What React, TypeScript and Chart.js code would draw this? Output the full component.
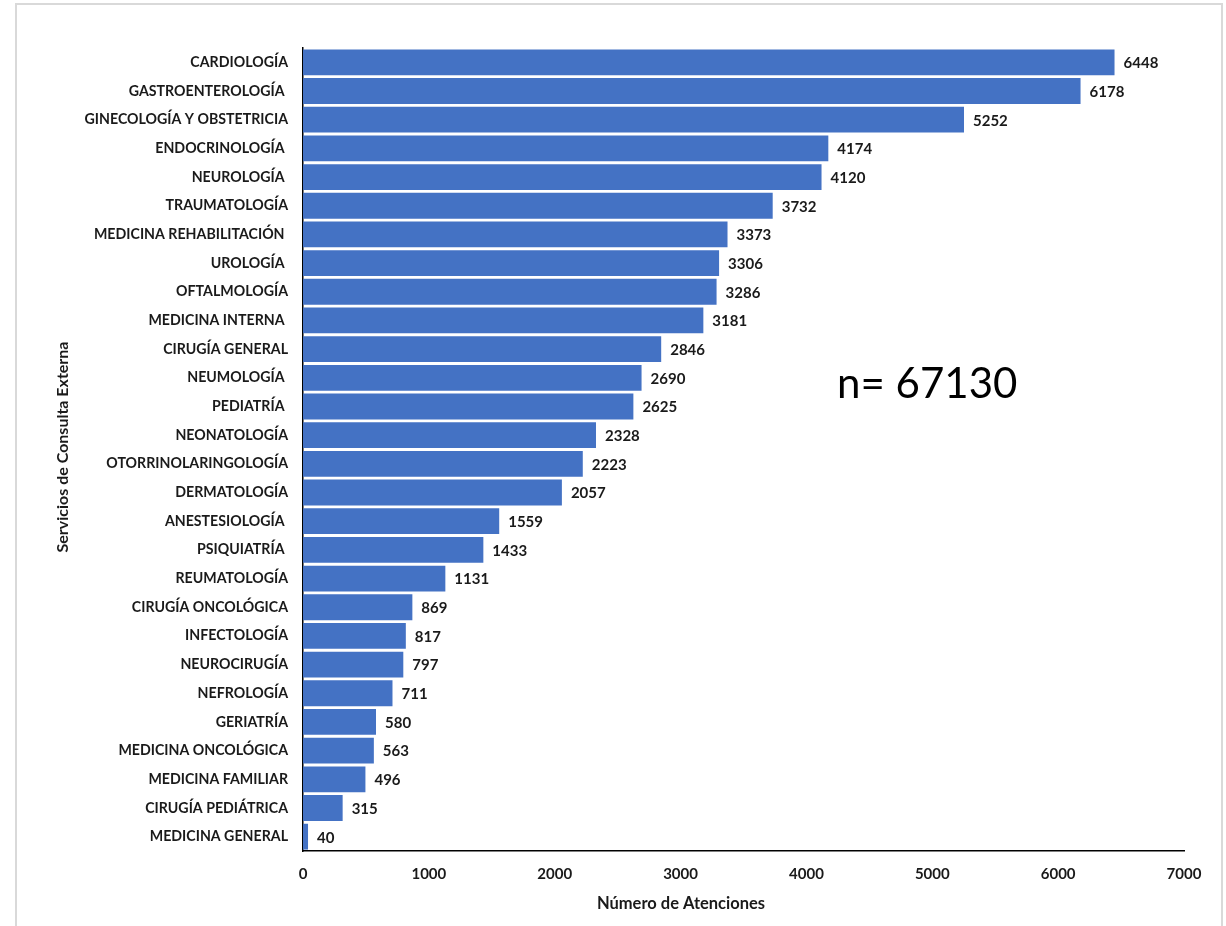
import React, { useEffect, useRef } from "react";
import { Chart, registerables } from "chart.js";

Chart.register(...registerables);

const categories: string[] = [
  "CARDIOLOGÍA",
  "GASTROENTEROLOGÍA ",
  "GINECOLOGÍA Y OBSTETRICIA",
  "ENDOCRINOLOGÍA ",
  "NEUROLOGÍA ",
  "TRAUMATOLOGÍA",
  "MEDICINA REHABILITACIÓN ",
  "UROLOGÍA ",
  "OFTALMOLOGÍA",
  "MEDICINA INTERNA ",
  "CIRUGÍA GENERAL",
  "NEUMOLOGÍA ",
  "PEDIATRÍA ",
  "NEONATOLOGÍA",
  "OTORRINOLARINGOLOGÍA",
  "DERMATOLOGÍA",
  "ANESTESIOLOGÍA ",
  "PSIQUIATRÍA ",
  "REUMATOLOGÍA",
  "CIRUGÍA ONCOLÓGICA",
  "INFECTOLOGÍA",
  "NEUROCIRUGÍA",
  "NEFROLOGÍA",
  "GERIATRÍA",
  "MEDICINA ONCOLÓGICA",
  "MEDICINA FAMILIAR",
  "CIRUGÍA PEDIÁTRICA",
  "MEDICINA GENERAL",
];

const atenciones: number[] = [
  6448, 6178, 5252, 4174, 4120, 3732, 3373, 3306, 3286, 3181, 2846, 2690, 2625,
  2328, 2223, 2057, 1559, 1433, 1131, 869, 817, 797, 711, 580, 563, 496, 315, 40,
];

const xTicks: number[] = [0, 1000, 2000, 3000, 4000, 5000, 6000, 7000];

const totalLabel = "n= 67130";
const xTitle = "Número de Atenciones";
const yTitle = "Servicios de Consulta Externa";

const FONT = "Lato, 'Open Sans', sans-serif";

export default function App() {
  const ref = useRef<HTMLCanvasElement | null>(null);

  useEffect(() => {
    if (!ref.current) return;

    const extras = {
      id: "extras",
      beforeDraw(chart: any) {
        const ctx = chart.ctx;
        ctx.save();
        ctx.fillStyle = "#ffffff";
        ctx.fillRect(0, 0, chart.width, chart.height);
        ctx.strokeStyle = "#d9d9d9";
        ctx.lineWidth = 2;
        ctx.strokeRect(16, 4, 1206, 940);
        ctx.restore();
      },
      afterDatasetsDraw(chart: any) {
        const ctx = chart.ctx;
        const meta = chart.getDatasetMeta(0);
        ctx.save();
        ctx.fillStyle = "#1a1a1a";
        ctx.font = `bold 15px ${FONT}`;
        ctx.textAlign = "left";
        ctx.textBaseline = "middle";
        meta.data.forEach((bar: any, i: number) => {
          ctx.fillText(String(atenciones[i]), bar.x + 9, bar.y + 1);
        });
        ctx.restore();
      },
      afterDraw(chart: any) {
        const ctx = chart.ctx;
        ctx.save();
        ctx.fillStyle = "#000000";
        ctx.font = `42px ${FONT}`;
        ctx.textAlign = "left";
        ctx.textBaseline = "middle";
        ctx.fillText(totalLabel, 837, 384);

        ctx.fillStyle = "#1a1a1a";
        ctx.font = `bold 16.5px ${FONT}`;
        ctx.textAlign = "center";
        ctx.fillText(xTitle, 681, 904);

        ctx.font = `bold 16px ${FONT}`;
        ctx.translate(63, 447);
        ctx.rotate(-Math.PI / 2);
        ctx.fillText(yTitle, 0, 0);
        ctx.restore();
      },
    };

    const chart = new Chart(ref.current, {
      type: "bar",
      data: {
        labels: categories,
        datasets: [
          {
            data: atenciones,
            backgroundColor: "#4472C4",
            borderWidth: 0,
            barPercentage: 0.9,
            categoryPercentage: 1,
          },
        ],
      },
      options: {
        indexAxis: "y",
        animation: false,
        responsive: false,
        maintainAspectRatio: false,
        layout: { padding: { top: 48, right: 42, bottom: 0, left: 0 } },
        plugins: {
          legend: { display: false },
          tooltip: { enabled: false },
        },
        scales: {
          x: {
            min: 0,
            max: 7000,
            afterFit(scale: any) {
              scale.height = 75;
            },
            afterBuildTicks(scale: any) {
              scale.ticks = xTicks.map((v) => ({ value: v }));
            },
            grid: { display: false, drawTicks: false },
            border: { display: true, color: "#000000", width: 1.5 },
            ticks: {
              color: "#1a1a1a",
              font: { family: FONT, size: 15, weight: "bold" },
              padding: 14,
              maxRotation: 0,
              callback: (v: any) => String(v),
            },
          },
          y: {
            afterFit(scale: any) {
              scale.width = 303;
            },
            grid: { display: false, drawTicks: false },
            border: { display: true, color: "#000000", width: 1.5 },
            ticks: {
              color: "#1a1a1a",
              font: { family: FONT, size: 14.2, weight: "bold" },
              padding: 15,
              autoSkip: false,
            },
          },
        },
      },
      plugins: [extras],
    });

    return () => chart.destroy();
  }, []);

  return (
    <div style={{ position: "fixed", left: 0, top: 0, width: 1226, height: 926 }}>
      <canvas ref={ref} width={1226} height={926} style={{ display: "block" }} />
    </div>
  );
}
